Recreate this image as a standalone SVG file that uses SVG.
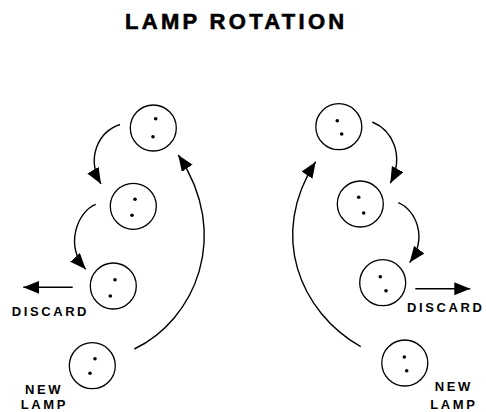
<svg xmlns="http://www.w3.org/2000/svg" width="486" height="412" viewBox="0 0 486 412">
<style>
.lamp circle.b{fill:#fff;stroke:#000;stroke-width:1.3}
.lamp circle.d{fill:#000}
.c path{fill:none;stroke:#000;stroke-width:1.4}
text{font-family:"Liberation Sans",Arial,sans-serif;font-weight:bold;fill:#000}
.lbl{font-size:13px;letter-spacing:2.6px}
</style>
<defs>
<marker id="ah" markerUnits="userSpaceOnUse" markerWidth="18" markerHeight="14" refX="16" refY="6.5" orient="auto">
<path d="M0,0 L16,6.5 L0,13 z" fill="#000"/>
</marker>
</defs>
<text x="125" y="29" font-size="22" letter-spacing="3.3" stroke="#000" stroke-width="0.6">LAMP ROTATION</text>
<g id="L1" class="lamp"><circle class="b" cx="153.3" cy="128" r="23"/><circle class="d" cx="155.7" cy="118.7" r="1.8"/><circle class="d" cx="153" cy="136.7" r="1.8"/></g>
<g id="L2" class="lamp"><circle class="b" cx="133.3" cy="206.3" r="23"/><circle class="d" cx="135" cy="199.3" r="1.8"/><circle class="d" cx="132" cy="215.3" r="1.8"/></g>
<g id="L3" class="lamp"><circle class="b" cx="113.3" cy="286" r="23"/><circle class="d" cx="115" cy="279.7" r="1.8"/><circle class="d" cx="110.3" cy="296" r="1.8"/></g>
<g id="L4" class="lamp"><circle class="b" cx="92.3" cy="365.7" r="23"/><circle class="d" cx="95" cy="358.7" r="1.8"/><circle class="d" cx="90" cy="373.3" r="1.8"/></g>
<g id="R1" class="lamp"><circle class="b" cx="338.8" cy="126.7" r="23"/><circle class="d" cx="337.3" cy="120.7" r="1.8"/><circle class="d" cx="341.7" cy="134" r="1.8"/></g>
<g id="R2" class="lamp"><circle class="b" cx="360.3" cy="204" r="23"/><circle class="d" cx="358.7" cy="197.3" r="1.8"/><circle class="d" cx="363.7" cy="213" r="1.8"/></g>
<g id="R3" class="lamp"><circle class="b" cx="382.7" cy="282.7" r="23"/><circle class="d" cx="380.3" cy="276.7" r="1.8"/><circle class="d" cx="386" cy="290.7" r="1.8"/></g>
<g id="R4" class="lamp"><circle class="b" cx="404.8" cy="363" r="23"/><circle class="d" cx="404.3" cy="357" r="1.8"/><circle class="d" cx="406.7" cy="370.7" r="1.8"/></g>
<g id="connectors" class="c">
<path d="M120,124.5 C98,132 86,158 101,184" marker-end="url(#ah)"/>
<path d="M95.7,204.3 C78,211 64,245 85.7,269.3" marker-end="url(#ah)"/>
<path d="M72.7,287.3 L23.3,287.3" marker-end="url(#ah)"/>
<path d="M134.3,349 C195,320 232,235 178.3,155" marker-end="url(#ah)"/>
<path d="M372.3,122 C392,130 405,155 390.3,183.3" marker-end="url(#ah)"/>
<path d="M398.3,202.7 C416,210 428,238 409.7,262.5" marker-end="url(#ah)"/>
<path d="M415.3,288.7 L470.3,288.7" marker-end="url(#ah)"/>
<path d="M360.7,346.7 C300,312 268,235 315.7,161.7" marker-end="url(#ah)"/>
</g>
<text class="lbl" x="11.7" y="316">DISCARD</text>
<text class="lbl" x="407" y="312" letter-spacing="1.8">DISCARD</text>
<text class="lbl" x="25" y="394">NEW</text>
<text class="lbl" x="20.7" y="408.5">LAMP</text>
<text class="lbl" x="434.7" y="390.7">NEW</text>
<text class="lbl" x="430.3" y="408.5">LAMP</text>
</svg>
